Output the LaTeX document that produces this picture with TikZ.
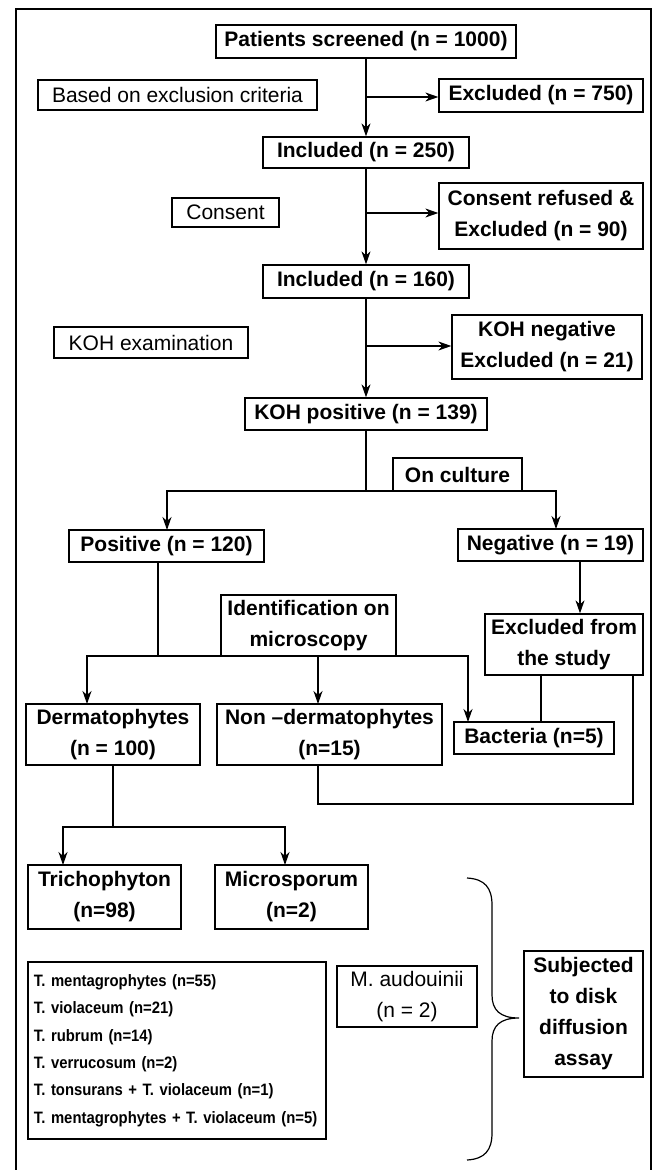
\documentclass[tikz,border=0pt]{standalone}
\usepackage{fontspec}
\setmainfont{Liberation Sans}
\newfontfamily\narrowfont{Liberation Sans}[FakeStretch=0.9]
\usetikzlibrary{arrows.meta}
\tikzset{
  bx/.style={draw, line width=1.3pt, inner sep=0pt, align=center, font=\bfseries\fontsize{21}{31}\selectfont},
  rg/.style={bx, font=\fontsize{21}{31}\selectfont},
  lst/.style={bx, align=left, font=\narrowfont\bfseries\fontsize{16.5}{27.4}\selectfont, text width=286pt},
  conn/.style={line width=1.2pt},
  arr/.style={conn, -{Stealth[length=13pt,width=9pt,inset=4pt]}},
}
\newcommand\mkbox[7]{\node[#6, minimum width={(#4-#2)*1pt}, minimum height={(#5-#3)*1pt}] (#1) at ({(#2+#4)/2},{(#3+#5)/2}) {#7};}
\begin{document}
\begin{tikzpicture}[x=1pt,y=-1pt]
\useasboundingbox (0,0) rectangle (654,1170);
\draw[line width=2pt] (16,1172) -- (16,9) -- (651,9) -- (651,1172);

\mkbox{pat}{216}{25}{516}{58}{bx}{Patients screened (n = 1000)}
\mkbox{based}{38}{80}{317}{110}{rg}{Based on exclusion criteria}
\mkbox{exc}{439}{79}{643}{112}{bx}{Excluded (n = 750)}
\mkbox{incA}{263}{137}{469}{168}{bx}{Included (n = 250)}
\mkbox{consent}{172}{198}{279}{227}{rg}{Consent}
\mkbox{cref}{439}{183}{643}{249}{bx}{Consent refused \&\\Excluded (n = 90)}
\mkbox{incB}{263}{265}{469}{298}{bx}{Included (n = 160)}
\mkbox{kohex}{54}{327}{248}{358}{rg}{KOH examination}
\mkbox{kohneg}{452}{315}{642}{379}{bx}{KOH negative\\Excluded (n = 21)}
\mkbox{kohpos}{245}{398}{487}{430}{bx}{KOH positive (n = 139)}
\mkbox{culture}{393}{458}{522}{491}{bx}{On culture}
\mkbox{pos}{69}{530}{264}{562}{bx}{Positive (n = 120)}
\mkbox{neg}{458}{529}{643}{561}{bx}{Negative (n = 19)}
\mkbox{ident}{221}{595}{396}{656}{bx}{Identification on\\microscopy}
\mkbox{exstudy}{485}{614}{643}{675}{bx}{Excluded from\\the study}
\mkbox{derm}{26}{704}{200}{765}{bx}{Dermatophytes\\(n = 100)}
\mkbox{nonderm}{217}{704}{442}{765}{bx}{Non --dermatophytes\\(n=15)}
\mkbox{bact}{454}{722}{614}{754}{bx}{Bacteria (n=5)}
\mkbox{trich}{28}{865}{181}{929}{bx}{Trichophyton\\(n=98)}
\mkbox{micro}{215}{865}{368}{929}{bx}{Microsporum\\(n=2)}
\mkbox{list}{28}{962}{326}{1139}{lst}{T. mentagrophytes (n=55)\\T. violaceum (n=21)\\T. rubrum (n=14)\\T. verrucosum (n=2)\\T. tonsurans + T. violaceum (n=1)\\T. mentagrophytes + T. violaceum (n=5)}
\mkbox{maud}{337}{966}{477}{1027}{rg}{M. audouinii\\(n = 2)}
\mkbox{subj}{524}{951}{643}{1077}{bx}{Subjected\\to disk\\diffusion\\assay}

% junctions
\coordinate (j1) at (366,97);
\coordinate (j2) at (366,213);
\coordinate (j3) at (366,346);
\coordinate (br1) at (366,491);
\coordinate (postop) at (167,530);
\coordinate (negtop) at (556,529);
\coordinate (br2) at (158,656);
\coordinate (dtop) at (87,704);
\coordinate (ntop) at (318,704);
\coordinate (btop) at (468,722);
\coordinate (n1) at (580,561);
\coordinate (eb) at (541,722);
\coordinate (er) at (633,804);
\coordinate (nb) at (318,804);
\coordinate (br3) at (113,827);
\coordinate (ttop) at (63,865);
\coordinate (mtop) at (285,865);

\draw[arr] (pat.south) -- (incA.north);
\draw[arr] (j1) -- (j1 -| exc.west);
\draw[arr] (incA.south) -- (incB.north);
\draw[arr] (j2) -- (j2 -| cref.west);
\draw[arr] (incB.south) -- (kohpos.north);
\draw[arr] (j3) -- (j3 -| kohneg.west);
\draw[conn] (kohpos.south) -- (br1);
\draw[arr] (br1) -| (postop);
\draw[arr] (br1) -| (negtop);
\draw[conn] (pos.south -| br2) -- (br2);
\draw[arr] (br2) -| (dtop);
\draw[arr] (br2) -| (ntop);
\draw[arr] (br2) -| (btop);
\draw[arr] (n1) -- (n1 |- exstudy.north);
\draw[conn] (exstudy.south -| eb) -- (eb);
\draw[conn] (exstudy.south -| er) -- (er) -- (nb) -- (nb |- nonderm.south);
\draw[conn] (derm.south) -- (br3);
\draw[arr] (br3) -| (ttop);
\draw[arr] (br3) -| (mtop);

% brace
\draw[conn] (467,878) .. controls (485,879) and (492,888) .. (492,905) -- (492,995)
  .. controls (492,1010) and (500,1018) .. (519,1018)
  .. controls (500,1018) and (492,1026) .. (492,1041) -- (492,1133)
  .. controls (492,1150) and (485,1159) .. (467,1160);
\end{tikzpicture}
\end{document}
